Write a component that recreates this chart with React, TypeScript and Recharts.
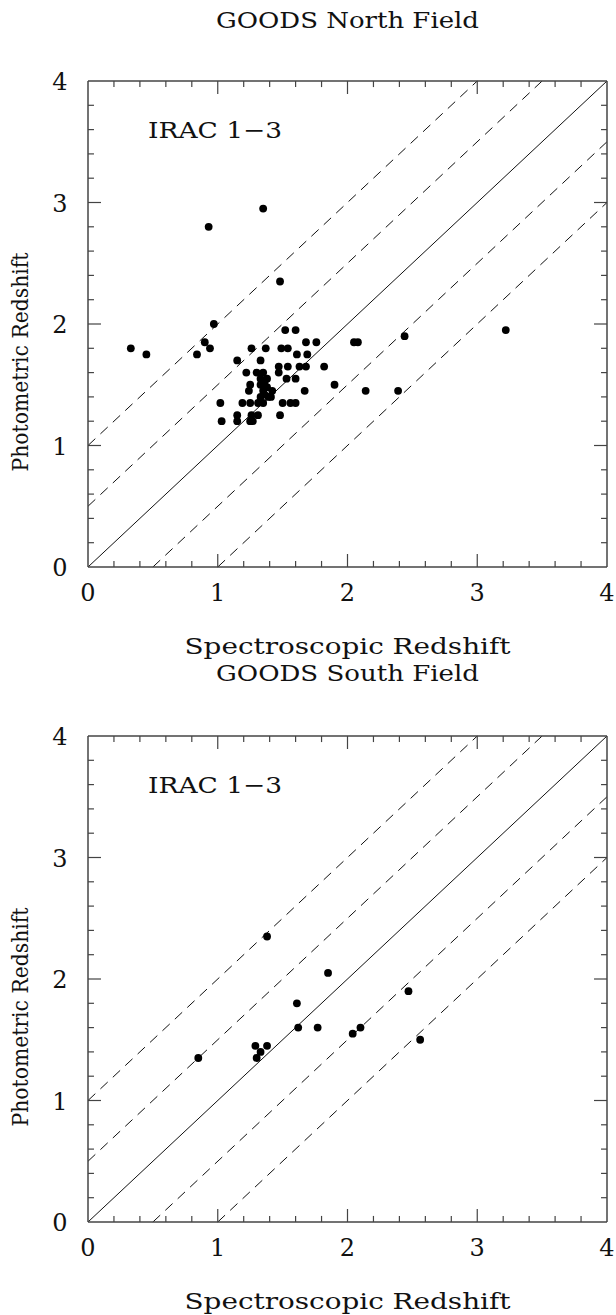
import React from 'react';
import { ScatterChart, Scatter, XAxis, YAxis, ReferenceLine } from 'recharts';

const FONT = '"DejaVu Serif", serif';
const AXIS_COLOR = '#444';

// Tick values (major at integers, minor every 0.2)
const tickValues = [0, 0.2, 0.4, 0.6, 0.8, 1, 1.2, 1.4, 1.6, 1.8, 2, 2.2, 2.4, 2.6, 2.8, 3, 3.2, 3.4, 3.6, 3.8, 4];
const tickLabels = ['0', '1', '2', '3', '4'];

// Reference line offsets (z_phot = z_spec + offset)
const lineOffsets = [-1, -0.5, 0, 0.5, 1];

// GOODS North: spectroscopic redshift (x) / photometric redshift (y)
const northSpec = [
  0.33, 0.45, 0.84, 0.90, 0.94, 0.93, 0.97, 1.02, 1.03, 1.15, 1.15, 1.15, 1.19, 1.22, 1.24, 1.25, 1.25, 1.25,
  1.26, 1.26, 1.27, 1.30, 1.31, 1.31, 1.33, 1.33, 1.33, 1.33, 1.35, 1.35, 1.35, 1.35, 1.37, 1.38, 1.39, 1.42,
  1.41, 1.47, 1.47, 1.48, 1.48, 1.49, 1.50, 1.52, 1.53, 1.54, 1.54, 1.56, 1.60, 1.60, 1.60, 1.61, 1.63, 1.67,
  1.68, 1.68, 1.69, 1.76, 1.82, 1.90, 2.05, 2.08, 2.14, 2.39, 2.44, 3.22, 1.35, 1.36, 1.38, 1.36,
];
const northPhot = [
  1.80, 1.75, 1.75, 1.85, 1.80, 2.80, 2.00, 1.35, 1.20, 1.70, 1.25, 1.20, 1.35, 1.60, 1.45, 1.50, 1.35, 1.20,
  1.80, 1.25, 1.20, 1.60, 1.25, 1.35, 1.70, 1.50, 1.40, 1.55, 1.60, 1.45, 1.35, 2.95, 1.80, 1.55, 1.40, 1.45,
  1.40, 1.60, 1.65, 1.25, 2.35, 1.80, 1.35, 1.95, 1.55, 1.65, 1.80, 1.35, 1.95, 1.55, 1.35, 1.75, 1.65, 1.45,
  1.65, 1.85, 1.75, 1.85, 1.65, 1.50, 1.85, 1.85, 1.45, 1.45, 1.90, 1.95, 1.50, 1.52, 1.48, 1.42,
];

// GOODS South
const southSpec = [0.85, 1.29, 1.30, 1.33, 1.38, 1.38, 1.61, 1.62, 1.77, 1.85, 2.04, 2.10, 2.47, 2.56];
const southPhot = [1.35, 1.45, 1.35, 1.40, 1.45, 2.35, 1.80, 1.60, 1.60, 2.05, 1.55, 1.60, 1.90, 1.50];

const northData = northSpec.map((x, i) => ({ x, y: northPhot[i] }));
const southData = southSpec.map((x, i) => ({ x, y: southPhot[i] }));

const isMajor = (v: number) => Math.abs(v - Math.round(v)) < 1e-6;
// tick lengths in axis units (major / minor)
const X_TICK_LEN = [0.107, 0.05]; // vertical ticks on x axes
const Y_TICK_LEN = [0.1, 0.046]; // horizontal ticks on y axes

const BottomTick = (p: any) => {
  const v = p.payload.value;
  if (!isMajor(v)) return <g />;
  return (
    <text x={p.x} y={p.y + 34} textAnchor="middle" fontFamily={FONT} fontSize={24} fill="#111">
      {tickLabels[Math.round(v)]}
    </text>
  );
};
const LeftTick = (p: any) => {
  const v = p.payload.value;
  if (!isMajor(v)) return <g />;
  return (
    <text x={p.x - 28} y={p.y + 9} textAnchor="middle" fontFamily={FONT} fontSize={24} fill="#111">
      {tickLabels[Math.round(v)]}
    </text>
  );
};
const NoTick = () => <g />;

const segmentFor = (o: number) =>
  o >= 0
    ? [{ x: 0, y: o }, { x: 4 - o, y: 4 }]
    : [{ x: -o, y: 0 }, { x: 4, y: 4 + o }];

const Dot = (p: any) => <circle cx={p.cx} cy={p.cy} r={3.9} fill="#000" />;

const tickSegments = () => {
  const segs: { key: string; seg: { x: number; y: number }[] }[] = [];
  tickValues.forEach((v) => {
    const lx = isMajor(v) ? X_TICK_LEN[0] : X_TICK_LEN[1];
    const ly = isMajor(v) ? Y_TICK_LEN[0] : Y_TICK_LEN[1];
    if (v > 0 && v < 4) {
      segs.push({ key: `b${v}`, seg: [{ x: v, y: 0 }, { x: v, y: lx }] });
      segs.push({ key: `t${v}`, seg: [{ x: v, y: 4 }, { x: v, y: 4 - lx }] });
      segs.push({ key: `l${v}`, seg: [{ x: 0, y: v }, { x: ly, y: v }] });
      segs.push({ key: `r${v}`, seg: [{ x: 4, y: v }, { x: 4 - ly, y: v }] });
    }
  });
  return segs;
};

const Panel = ({ data, top }: { data: { x: number; y: number }[]; top: number }) => {
  const axisLine = { stroke: AXIS_COLOR, strokeWidth: 1.5 };
  return (
    <div style={{ position: 'absolute', left: 0, top }}>
      <ScatterChart width={616} height={660} margin={{ top: 80, left: 87, right: 8, bottom: 92 }}>
        <XAxis xAxisId="b" type="number" dataKey="x" domain={[0, 4]} ticks={tickValues} interval={0}
          height={1} tickSize={0} tickMargin={0} axisLine={axisLine} tickLine={false} tick={BottomTick} allowDataOverflow />
        <XAxis xAxisId="t" orientation="top" type="number" dataKey="x" domain={[0, 4]} ticks={tickValues} interval={0}
          height={1} tickSize={0} tickMargin={0} axisLine={axisLine} tickLine={false} tick={NoTick} allowDataOverflow />
        <YAxis yAxisId="l" type="number" dataKey="y" domain={[0, 4]} ticks={tickValues} interval={0}
          width={1} tickSize={0} tickMargin={0} axisLine={axisLine} tickLine={false} tick={LeftTick} allowDataOverflow />
        <YAxis yAxisId="r" orientation="right" type="number" dataKey="y" domain={[0, 4]} ticks={tickValues} interval={0}
          width={1} tickSize={0} tickMargin={0} axisLine={axisLine} tickLine={false} tick={NoTick} allowDataOverflow />
        {tickSegments().map((t) => (
          <ReferenceLine key={t.key} xAxisId="b" yAxisId="l" segment={t.seg} stroke={AXIS_COLOR}
            strokeWidth={1.2} ifOverflow="visible" />
        ))}
        {lineOffsets.map((o) => (
          <ReferenceLine key={o} xAxisId="b" yAxisId="l" segment={segmentFor(o)} stroke="#111"
            strokeWidth={1} strokeDasharray={o === 0 ? undefined : '10 7'} ifOverflow="visible" />
        ))}
        <Scatter xAxisId="b" yAxisId="l" data={data} shape={Dot} isAnimationActive={false} />
      </ScatterChart>
    </div>
  );
};

const Texts = () => {
  const common = { fontFamily: FONT, fontSize: 23, fill: '#111' } as const;
  const yLabel = (cy: number) => (
    <text x={28} y={cy} transform={`rotate(-90, 28, ${cy})`} textAnchor="middle" textLength={219}
      lengthAdjust="spacingAndGlyphs" {...common}>Photometric Redshift</text>
  );
  return (
    <svg width={616} height={1315} style={{ position: 'absolute', left: 0, top: 0, pointerEvents: 'none' }}>
      <text x={347.5} y={28} textAnchor="middle" textLength={263} lengthAdjust="spacingAndGlyphs" {...common}>GOODS North Field</text>
      <text x={148} y={138} textLength={134} lengthAdjust="spacingAndGlyphs" {...common}>IRAC 1−3</text>
      {yLabel(362)}
      <text x={347.5} y={654} textAnchor="middle" textLength={326} lengthAdjust="spacingAndGlyphs" {...common}>Spectroscopic Redshift</text>
      <text x={347.5} y={681} textAnchor="middle" textLength={263} lengthAdjust="spacingAndGlyphs" {...common}>GOODS South Field</text>
      <text x={148} y={793} textLength={134} lengthAdjust="spacingAndGlyphs" {...common}>IRAC 1−3</text>
      {yLabel(1017)}
      <text x={347.5} y={1309} textAnchor="middle" textLength={326} lengthAdjust="spacingAndGlyphs" {...common}>Spectroscopic Redshift</text>
    </svg>
  );
};

export default function App() {
  return (
    <div style={{ position: 'absolute', left: 0, top: 0, width: 616, height: 1315, background: '#fff' }}>
      <Panel data={northData} top={0} />
      <Panel data={southData} top={655} />
      <Texts />
    </div>
  );
}
